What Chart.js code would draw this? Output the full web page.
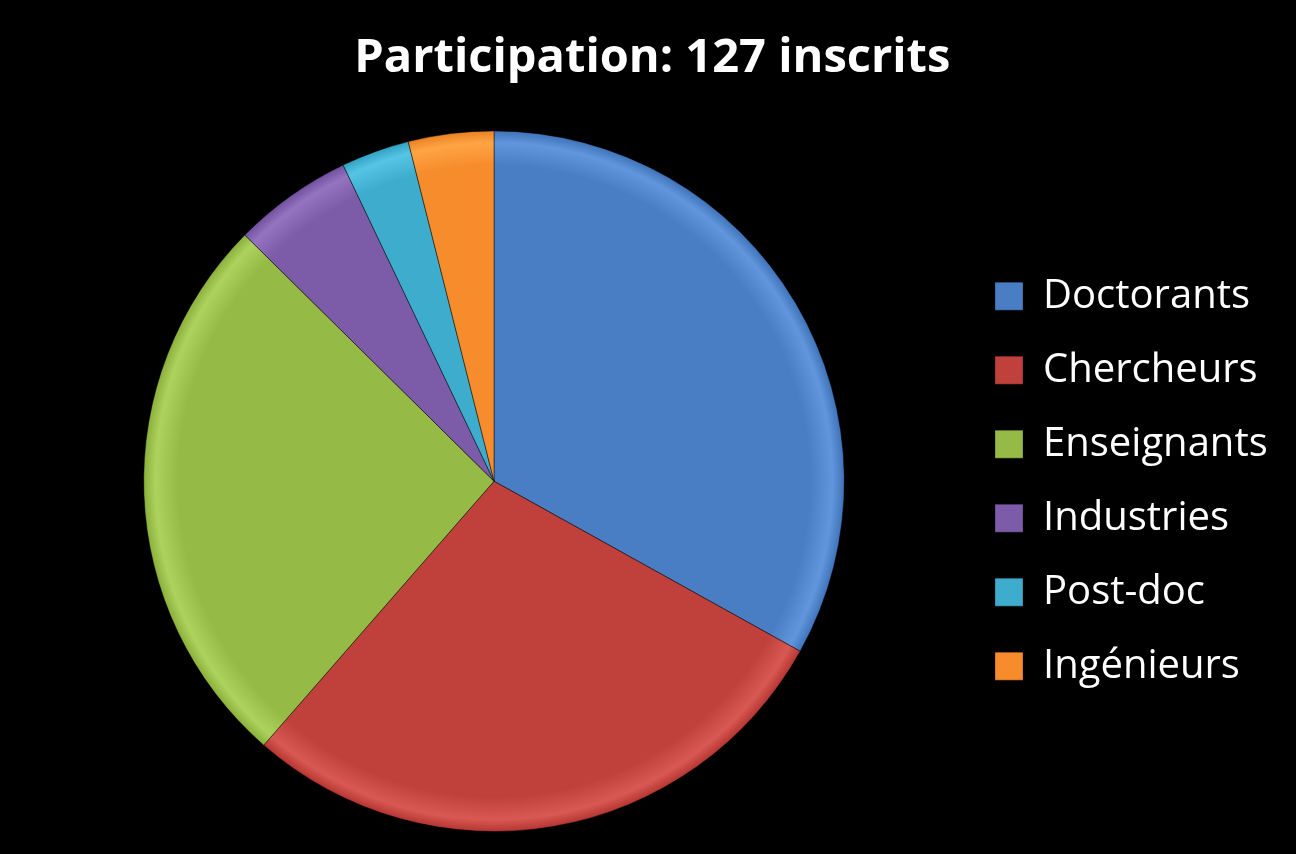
<!DOCTYPE html>
<html>
<head>
<meta charset="utf-8">
<script src="https://cdn.jsdelivr.net/npm/chart.js@4.4.1/dist/chart.umd.min.js"></script>
<style>
  html, body { margin: 0; padding: 0; background: #000; }
  #pie { display: block; }
</style>
</head>
<body>
<canvas id="pie" width="1296" height="854"></canvas>
<script>
// Participants by category (127 in total)
const categories = ["Doctorants", "Chercheurs", "Enseignants", "Industries", "Post-doc", "Ingénieurs"];
const counts = [42, 36, 33, 7, 4, 5];
const sliceColors = ["#4A7EC4", "#C0403C", "#96BA46", "#7C5CA8", "#3EACCC", "#F68C2C"];
const titleText = "Participation: 127 inscrits";

const FONT = "'Open Sans', 'Noto Sans', sans-serif";
const legendFontSize = 40;
const legendPad = 34;
const boxSize = 28;

// where things sit in the reference
const targetLegendLeft = 995 - legendPad;
const pieCenterX = 494;

// lighten / darken a hex colour, used for the rim highlight
const shade = (hex, amt) => {
  const n = parseInt(hex.slice(1), 16);
  const f = (v) => Math.max(0, Math.min(255, Math.round(v + amt)));
  return `rgb(${f(n >> 16)}, ${f((n >> 8) & 255)}, ${f(n & 255)})`;
};

const ctx = document.getElementById("pie");

const chart = new Chart(ctx, {
  type: "pie",
  data: {
    labels: categories,
    datasets: [
      {
        data: counts,
        backgroundColor: (c) => {
          const ch = c.chart;
          const area = ch.chartArea;
          const base = sliceColors[c.dataIndex];
          if (!area) return base;
          const cx = (area.left + area.right) / 2;
          const cy = (area.top + area.bottom) / 2;
          const r = Math.min(area.right - area.left, area.bottom - area.top) / 2;
          const g = ch.ctx.createRadialGradient(cx, cy, 0, cx, cy, r);
          g.addColorStop(0, base);
          g.addColorStop(0.9, base);
          g.addColorStop(0.965, shade(base, 24));
          g.addColorStop(1, shade(base, -12));
          return g;
        },
        borderColor: "rgba(0,0,0,0.45)",
        borderWidth: 1,
      },
    ],
  },
  options: {
    responsive: false,
    devicePixelRatio: 1,
    animation: false,
    layout: {
      padding: { top: 0, bottom: 22, left: 2 * pieCenterX - targetLegendLeft, right: 20 },
    },
    plugins: {
      title: {
        display: true,
        text: titleText,
        color: "#FFFFFF",
        font: { family: FONT, size: 47, weight: "bold" },
        padding: { top: 30, bottom: 44 },
      },
      legend: {
        position: "right",
        fullSize: false,
        labels: {
          color: "#FFFFFF",
          font: { family: FONT, size: legendFontSize },
          boxWidth: boxSize,
          boxHeight: boxSize,
          padding: legendPad,
          generateLabels: (ch) =>
            Chart.overrides.pie.plugins.legend.labels
              .generateLabels(ch)
              .map((item, i) => ({
                ...item,
                fillStyle: sliceColors[i],
                strokeStyle: "rgba(0,0,0,0.3)",
                lineWidth: 1,
              })),
        },
      },
      tooltip: { enabled: false },
    },
  },
  plugins: [
    {
      id: "blackBackground",
      beforeDraw: (ch) => {
        const c = ch.ctx;
        c.save();
        c.fillStyle = "#000";
        c.fillRect(0, 0, ch.width, ch.height);
        c.restore();
      },
    },
  ],
});

// nudge the right padding so the legend lands where the reference has it
const shift = chart.legend.left - targetLegendLeft;
chart.options.layout.padding.right = Math.max(0, 20 + shift);
chart.update();
</script>
</body>
</html>
